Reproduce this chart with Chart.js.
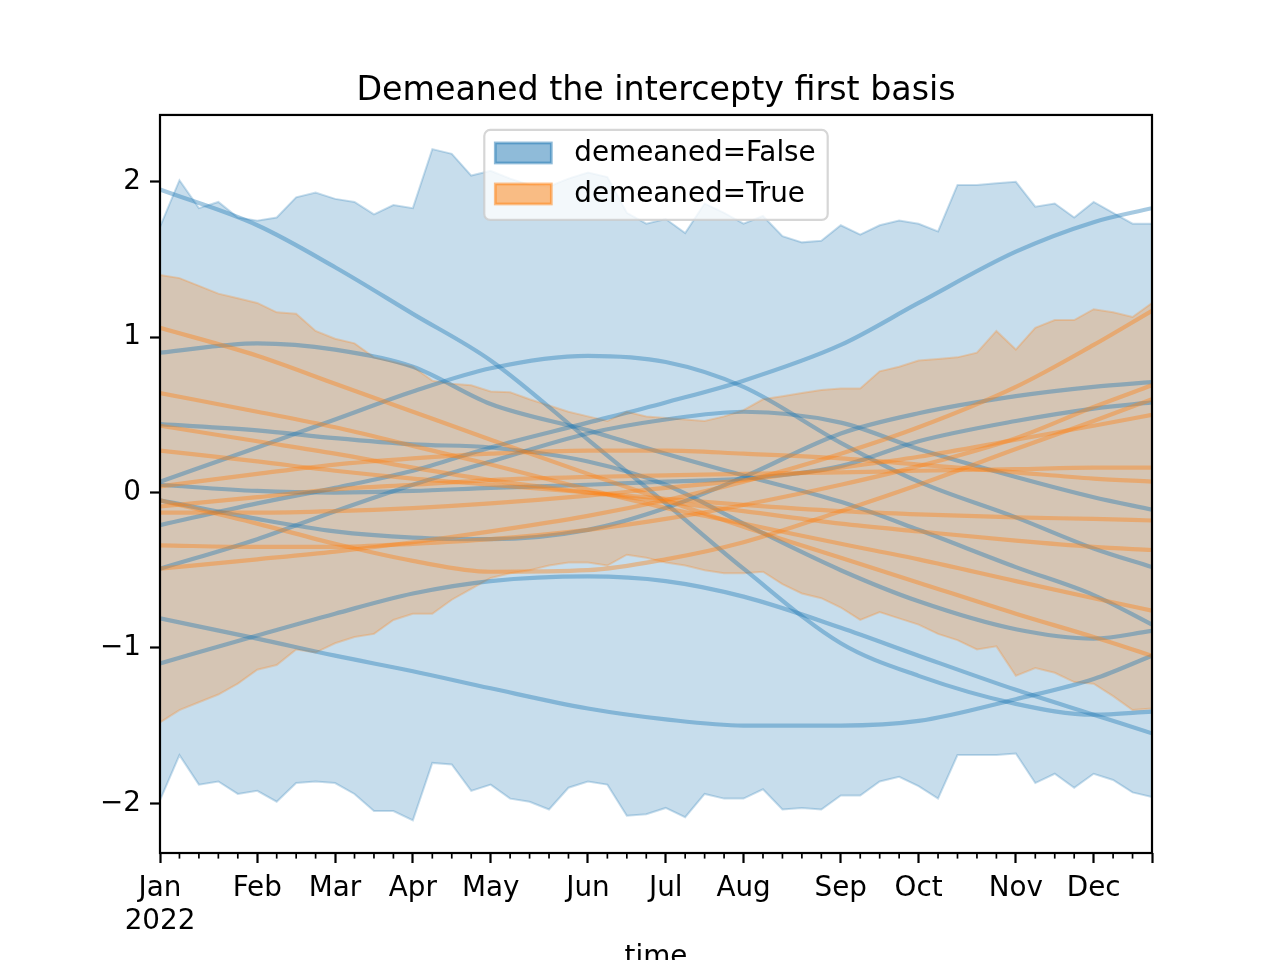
<!DOCTYPE html>
<html>
<head>
<meta charset="utf-8">
<script src="https://cdn.jsdelivr.net/npm/chart.js@4.4.0/dist/chart.umd.min.js"></script>
<style>
  html, body { margin: 0; padding: 0; background: #fff; }
</style>
</head>
<body>
<canvas id="chart-canvas" width="1280" height="960"></canvas>
<script>
// ### data ###
const MONTH_TICKS = [0, 5, 9, 13, 17, 22, 26, 30, 35, 39, 44, 48, 51];
const MONTH_LABELS = [["Jan", "2022"], "Feb", "Mar", "Apr", "May", "Jun", "Jul", "Aug", "Sep", "Oct", "Nov", "Dec", ""];
const Y_TICKS = [-2, -1, 0, 1, 2];

// weekly band edges
const blueUpper = [1.71, 2.01, 1.83, 1.87, 1.77, 1.75, 1.77, 1.90, 1.93, 1.89, 1.87, 1.79, 1.85, 1.83, 2.21, 2.18, 2.04, 2.07,
  2.02, 1.98, 1.97, 2.02, 2.06, 2.03, 1.80, 1.73, 1.76, 1.67, 1.86, 1.80, 1.73, 1.78, 1.65, 1.61, 1.62,
  1.72, 1.66, 1.72, 1.75, 1.73, 1.68, 1.98, 1.98, 1.99, 2.00, 1.84, 1.86, 1.77, 1.87, 1.80, 1.73, 1.73];
const blueLower = [-1.98, -1.69, -1.88, -1.86, -1.94, -1.92, -1.99, -1.87, -1.86, -1.87, -1.94, -2.05, -2.05, -2.11, -1.74, -1.75, -1.92, -1.88,
  -1.97, -1.99, -2.04, -1.90, -1.86, -1.88, -2.08, -2.07, -2.03, -2.09, -1.94, -1.97, -1.97, -1.91, -2.04, -2.03, -2.04,
  -1.95, -1.95, -1.86, -1.83, -1.89, -1.97, -1.69, -1.69, -1.69, -1.68, -1.87, -1.81, -1.90, -1.81, -1.85, -1.93, -1.96];
const orangeUpper = [1.40, 1.38, 1.33, 1.28, 1.25, 1.22, 1.16, 1.15, 1.04, 0.99, 0.96, 0.87, 0.84, 0.81,
  0.72, 0.70, 0.69, 0.65, 0.645, 0.60, 0.56, 0.52, 0.49, 0.46,
  0.52, 0.49, 0.48, 0.47, 0.46, 0.49, 0.53, 0.60, 0.62, 0.64, 0.66, 0.67, 0.67,
  0.78, 0.81, 0.85, 0.86, 0.87, 0.90, 1.04, 0.92, 1.06, 1.11, 1.11, 1.18, 1.16, 1.13, 1.22];
const orangeLower = [-1.48, -1.40, -1.35, -1.30, -1.23, -1.14, -1.11, -1.01, -1.03, -0.97, -0.93, -0.91, -0.82, -0.78, -0.78, -0.69,
  -0.62, -0.55, -0.52, -0.50, -0.47, -0.45, -0.45, -0.47, -0.40, -0.42, -0.45, -0.47, -0.50, -0.52, -0.52, -0.51, -0.59, -0.65, -0.68,
  -0.74, -0.82, -0.77, -0.81, -0.85, -0.91, -0.95, -1.01, -0.99, -1.18, -1.13, -1.16, -1.22, -1.23, -1.31, -1.40, -1.39];

// smooth curves, read at the month ticks (MONTH_TICKS)
const blueDraws = [
  [1.95, 1.72, 1.45, 1.15, 0.85, 0.34, -0.07, -0.49, -0.97, -1.18, -1.36, -1.43, -1.41],
  [-1.10, -0.92, -0.78, -0.65, -0.57, -0.54, -0.57, -0.67, -0.87, -1.05, -1.27, -1.43, -1.55],
  [-0.81, -0.94, -1.05, -1.15, -1.26, -1.39, -1.46, -1.50, -1.50, -1.47, -1.33, -1.20, -1.05],
  [0.90, 0.96, 0.92, 0.81, 0.57, 0.40, 0.25, 0.11, -0.06, -0.24, -0.48, -0.66, -0.85],
  [0.07, 0.29, 0.47, 0.65, 0.80, 0.88, 0.84, 0.68, 0.32, 0.07, -0.16, -0.36, -0.48],
  [-0.21, -0.07, 0.03, 0.14, 0.29, 0.45, 0.58, 0.72, 0.95, 1.22, 1.55, 1.74, 1.83],
  [0.44, 0.40, 0.35, 0.31, 0.29, 0.20, 0.05, -0.20, -0.50, -0.70, -0.88, -0.94, -0.89],
  [0.05, 0.01, 0.00, 0.01, 0.03, 0.05, 0.07, 0.09, 0.17, 0.33, 0.46, 0.54, 0.58],
  [-0.05, -0.17, -0.25, -0.29, -0.30, -0.24, -0.10, 0.10, 0.38, 0.51, 0.62, 0.68, 0.71],
  [-0.49, -0.30, -0.12, 0.05, 0.20, 0.38, 0.47, 0.52, 0.45, 0.28, 0.10, -0.03, -0.11],
];
const orangeDraws = [
  [1.06, 0.88, 0.70, 0.52, 0.34, 0.12, -0.05, -0.22, -0.42, -0.58, -0.78, -0.93, -1.05],
  [0.64, 0.52, 0.42, 0.30, 0.18, 0.02, -0.10, -0.20, -0.33, -0.43, -0.57, -0.68, -0.76],
  [0.43, 0.33, 0.25, 0.16, 0.08, 0.00, -0.06, -0.12, -0.20, -0.25, -0.31, -0.35, -0.37],
  [0.27, 0.20, 0.14, 0.09, 0.05, 0.00, -0.04, -0.08, -0.12, -0.14, -0.16, -0.17, -0.18],
  [0.04, 0.12, 0.18, 0.22, 0.25, 0.27, 0.27, 0.25, 0.22, 0.18, 0.13, 0.09, 0.07],
  [-0.09, -0.03, 0.02, 0.05, 0.08, 0.10, 0.11, 0.12, 0.13, 0.14, 0.15, 0.16, 0.16],
  [-0.13, -0.13, -0.12, -0.10, -0.07, -0.02, 0.03, 0.08, 0.16, 0.23, 0.34, 0.43, 0.50],
  [-0.34, -0.35, -0.35, -0.33, -0.30, -0.24, -0.17, -0.08, 0.05, 0.17, 0.35, 0.55, 0.69],
  [-0.49, -0.43, -0.38, -0.32, -0.25, -0.15, -0.05, 0.07, 0.25, 0.42, 0.68, 0.95, 1.17],
  [-0.05, -0.20, -0.33, -0.44, -0.51, -0.50, -0.43, -0.32, -0.12, 0.05, 0.28, 0.46, 0.60],
];

// ### colors / fonts ###
const BLUE = "31, 119, 180";
const ORANGE = "255, 127, 14";
const FONT = '"DejaVu Sans", sans-serif';
const TICK_SIZE = 27.8;

// ### dataset building ###
function weekly(values) {
  return values.map((v, i) => ({ x: i, y: v }));
}

function monthly(values) {
  return values.map((v, i) => ({ x: MONTH_TICKS[i], y: v }));
}

function bandDatasets(upper, lower, rgb, label, legendIndex, order) {
  const edge = {
    borderColor: `rgba(${rgb}, 0.25)`,
    borderWidth: 2,
    pointRadius: 0,
    tension: 0,
  };
  return [
    { ...edge, data: weekly(upper), fill: "+1", backgroundColor: `rgba(${rgb}, 0.25)`, order: order,
      legendLabel: label, legendRgb: rgb, legendIndex: legendIndex },
    { ...edge, data: weekly(lower), fill: false, order: order - 1 },
  ];
}

function drawDatasets(draws, rgb, order) {
  return draws.map((values) => ({
    data: monthly(values),
    borderColor: `rgba(${rgb}, 0.4)`,
    borderWidth: 4.2,
    pointRadius: 0,
    fill: false,
    cubicInterpolationMode: "monotone",
    order: order,
  }));
}

// ### plugins ###
const minorTicks = {
  id: "minorTicks",
  afterDraw(chart) {
    const { ctx, chartArea, scales } = chart;
    ctx.save();
    ctx.strokeStyle = "#000";
    ctx.lineWidth = 1.7;
    for (let w = 0; w <= 51; w++) {
      if (MONTH_TICKS.includes(w)) continue;
      const px = scales.x.getPixelForValue(w);
      ctx.beginPath();
      ctx.moveTo(px, chartArea.bottom);
      ctx.lineTo(px, chartArea.bottom + 5.6);
      ctx.stroke();
    }
    ctx.restore();
  },
};

const frame = {
  id: "frame",
  afterDatasetsDraw(chart) {
    const { ctx, chartArea } = chart;
    ctx.save();
    ctx.strokeStyle = "#000";
    ctx.lineWidth = 2.2;
    ctx.strokeRect(chartArea.left, chartArea.top, chartArea.right - chartArea.left, chartArea.bottom - chartArea.top);
    ctx.restore();
  },
};

function roundRect(ctx, x, y, w, h, r) {
  ctx.beginPath();
  ctx.moveTo(x + r, y);
  ctx.lineTo(x + w - r, y);
  ctx.arcTo(x + w, y, x + w, y + r, r);
  ctx.lineTo(x + w, y + h - r);
  ctx.arcTo(x + w, y + h, x + w - r, y + h, r);
  ctx.lineTo(x + r, y + h);
  ctx.arcTo(x, y + h, x, y + h - r, r);
  ctx.lineTo(x, y + r);
  ctx.arcTo(x, y, x + r, y, r);
  ctx.closePath();
}

const legendBox = {
  id: "legendBox",
  afterDraw(chart) {
    const { ctx, chartArea } = chart;
    const items = chart.data.datasets
      .filter((d) => d.legendLabel)
      .sort((a, b) => a.legendIndex - b.legendIndex);
    ctx.save();
    ctx.font = `${TICK_SIZE}px ${FONT}`;
    const textW = Math.max(...items.map((d) => ctx.measureText(d.legendLabel).width));
    const w = 11 + 56 + 23 + textW + 12;
    const h = 90;
    const x = (chartArea.left + chartArea.right) / 2 - w / 2;
    const y = chartArea.top + 15;
    roundRect(ctx, x, y, w, h, 6);
    ctx.fillStyle = "rgba(255, 255, 255, 0.8)";
    ctx.fill();
    ctx.strokeStyle = "rgba(204, 204, 204, 0.8)";
    ctx.lineWidth = 2.2;
    ctx.stroke();
    items.forEach((d, i) => {
      const cy = y + 23 + i * 41;
      ctx.fillStyle = `rgba(${d.legendRgb}, 0.5)`;
      ctx.fillRect(x + 11, cy - 10, 56, 20);
      ctx.strokeStyle = `rgba(${d.legendRgb}, 0.5)`;
      ctx.lineWidth = 2.8;
      ctx.strokeRect(x + 11, cy - 10, 56, 20);
      ctx.fillStyle = "#000";
      ctx.textBaseline = "middle";
      ctx.fillText(d.legendLabel, x + 11 + 56 + 23, cy + 1);
    });
    ctx.restore();
  },
};

// ### chart ###
function renderChart() {
  const chartCanvas = document.getElementById("chart-canvas");
  const datasets = [
    ...drawDatasets(orangeDraws, ORANGE, 10),
    ...drawDatasets(blueDraws, BLUE, 20),
    ...bandDatasets(orangeUpper, orangeLower, ORANGE, "demeaned=True", 1, 31),
    ...bandDatasets(blueUpper, blueLower, BLUE, "demeaned=False", 0, 41),
  ];

  new Chart(chartCanvas, {
    type: "line",
    data: { datasets: datasets },
    plugins: [minorTicks, frame, legendBox],
    options: {
      responsive: false,
      animation: false,
      devicePixelRatio: 1,
      layout: { padding: { left: 32, right: 0, top: 0, bottom: 0 } },
      plugins: {
        legend: { display: false },
        tooltip: { enabled: false },
        title: {
          display: true,
          text: "Demeaned the intercepty first basis",
          color: "#000",
          font: { family: FONT, size: 33.3, weight: "normal" },
          padding: { top: 71, bottom: 4 },
        },
      },
      scales: {
        x: {
          type: "linear",
          min: 0,
          max: 51,
          afterBuildTicks: (scale) => {
            scale.ticks = MONTH_TICKS.map((v) => ({ value: v }));
          },
          afterFit: (scale) => {
            scale.height = 107;
          },
          ticks: {
            autoSkip: false,
            maxRotation: 0,
            color: "#000",
            padding: 9,
            font: { family: FONT, size: TICK_SIZE },
            callback: (value, index) => MONTH_LABELS[index],
          },
          grid: { drawOnChartArea: false, drawTicks: true, tickLength: 10, tickWidth: 2.2, tickColor: "#000" },
          border: { display: false },
          title: {
            display: true,
            text: "time",
            color: "#000",
            font: { family: FONT, size: TICK_SIZE },
            padding: { top: 0, bottom: -14 },
          },
        },
        y: {
          type: "linear",
          min: -2.32,
          max: 2.43,
          afterBuildTicks: (scale) => {
            scale.ticks = Y_TICKS.map((v) => ({ value: v }));
          },
          afterFit: (scale) => {
            scale.width = 128;
          },
          ticks: {
            color: "#000",
            padding: 9,
            font: { family: FONT, size: TICK_SIZE },
            callback: (value) => (value < 0 ? "\u2212" + Math.abs(value) : String(value)),
          },
          grid: { drawOnChartArea: false, drawTicks: true, tickLength: 10, tickWidth: 2.2, tickColor: "#000" },
          border: { display: false },
        },
        // empty right margin so the title centres over the axes
        yRight: {
          type: "linear",
          position: "right",
          min: 0,
          max: 1,
          afterFit: (scale) => {
            scale.width = 128;
          },
          ticks: { display: false },
          grid: { display: false },
          border: { display: false },
        },
      },
    },
  });
}

renderChart();
</script>
</body>
</html>
